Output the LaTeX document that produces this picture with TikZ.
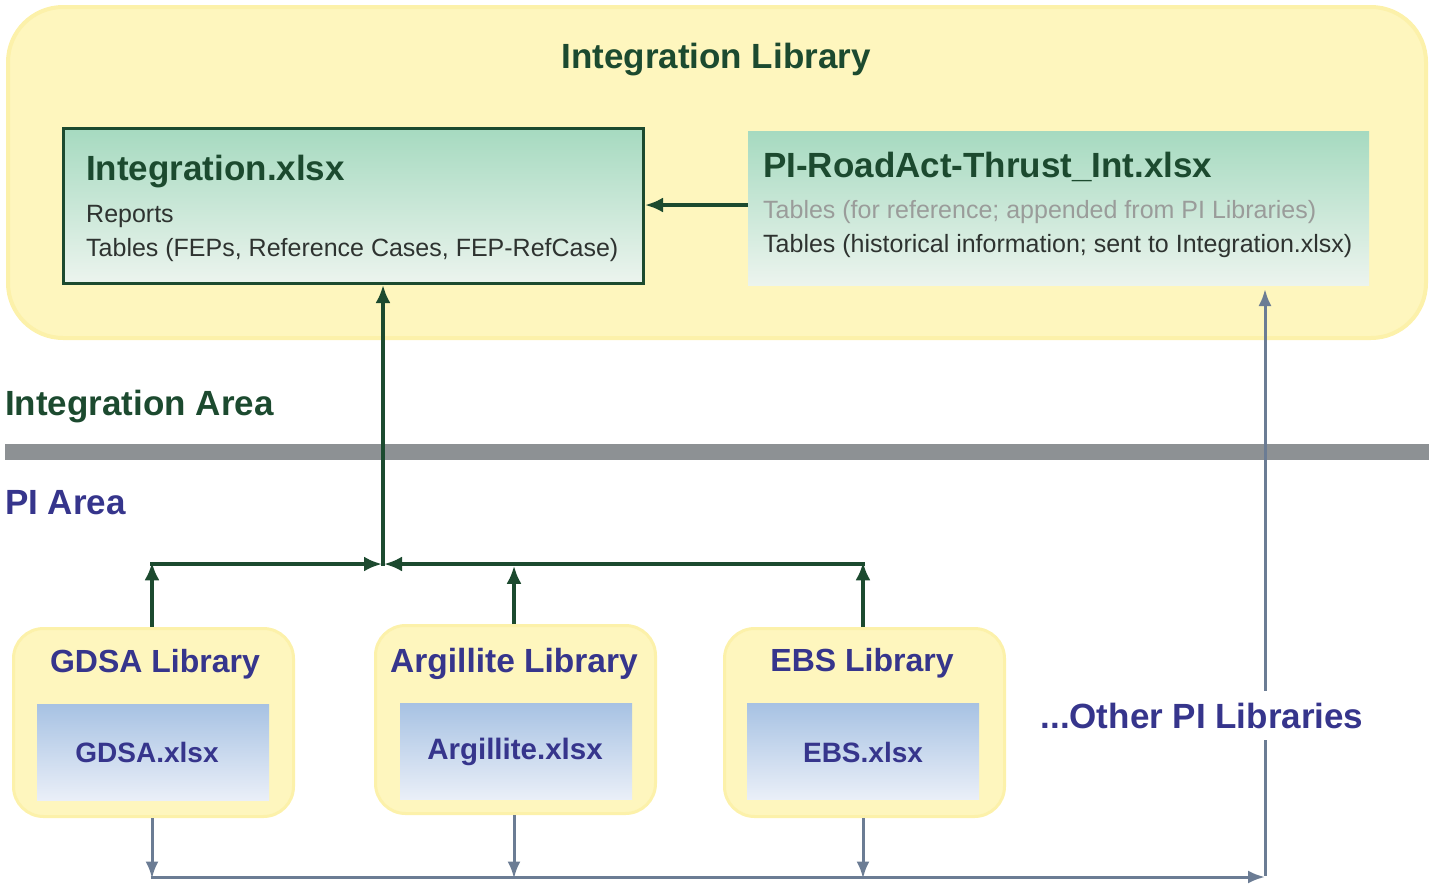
\documentclass[tikz,border=0pt]{standalone}
\usepackage{fontspec}
\setmainfont{Liberation Sans}
\usetikzlibrary{arrows.meta}

\definecolor{dgreen}{HTML}{1C4A2F}
\definecolor{piblue}{HTML}{36358C}
\definecolor{slate}{HTML}{6B7C94}
\definecolor{barGray}{HTML}{8D9194}
\definecolor{paleY}{HTML}{FEF6BE}
\definecolor{edgeY}{HTML}{FCF1AA}
\definecolor{mintTop}{HTML}{A6DAC0}
\definecolor{mintBot}{HTML}{ECF4EE}
\definecolor{skyTop}{HTML}{A7C2E3}
\definecolor{skyBot}{HTML}{EAEFF8}
\definecolor{bodyTxt}{HTML}{2E3330}
\definecolor{mutedTxt}{HTML}{9A9C9A}

\tikzset{
  areabox/.style={fill=paleY, draw=edgeY, line width=4pt, rounded corners=55pt},
  libbox/.style={fill=paleY, draw=edgeY, line width=3pt, rounded corners=30pt,
    minimum width=280, minimum height=188, anchor=north west, inner sep=0},
  filebox/.style={top color=skyTop, bottom color=skyBot, draw=none,
    minimum width=232, minimum height=96, anchor=north west, inner sep=0},
  headtxt/.style={font=\fontsize{35}{40}\selectfont\bfseries, text=dgreen, inner sep=0},
  bodytxt/.style={font=\fontsize{25}{30}\selectfont, text=bodyTxt, inner sep=0},
  libtxt/.style={font=\fontsize{32}{36}\selectfont\bfseries, text=piblue, inner sep=0, anchor=base},
  filetxt/.style={font=\fontsize{28}{32}\selectfont\bfseries, text=piblue, inner sep=0, anchor=base},
  garrow/.style={draw=dgreen, line width=3.5pt, -{Latex[length=18pt,width=15pt]}},
  barrow/.style={draw=slate, line width=3pt, -{Latex[length=17pt,width=13pt]}},
}

\begin{document}
\begin{tikzpicture}[x=1pt, y=-1pt]
\useasboundingbox (0,0) rectangle (1429,884);

% integration area background
\node[areabox, minimum width=1418, minimum height=331, anchor=north west, inner sep=0]
  (intlib) at (6,5) {};
\node[headtxt, anchor=base] (intlibT) at (716,68) {Integration Library};

% Integration.xlsx
\node[top color=mintTop, bottom color=mintBot, draw=dgreen, line width=3pt,
  minimum width=580, minimum height=155, anchor=north west, inner sep=0]
  (intx) at (62,127) {};
\node[headtxt, anchor=base west] (intxT) at (86,180) {Integration.xlsx};
\node[bodytxt, anchor=base west] (intxR) at (86,222) {Reports};
\node[bodytxt, anchor=base west] (intxTb) at (86,256) {Tables (FEPs, Reference Cases, FEP-RefCase)};

% PI-RoadAct-Thrust_Int.xlsx
\node[top color=mintTop, bottom color=mintBot, draw=none,
  minimum width=621, minimum height=154, anchor=north west, inner sep=0]
  (thr) at (748,131) {};
\node[headtxt, anchor=base west] (thrT) at (763,177) {PI-RoadAct-Thrust\_Int.xlsx};
\node[bodytxt, text=mutedTxt, anchor=base west] (thrA) at (763,218)
  {Tables (for reference; appended from PI Libraries)};
\node[bodytxt, anchor=base west] (thrB) at (763,252)
  {Tables (historical information; sent to Integration.xlsx)};

% area labels and divider
\node[headtxt, anchor=base west] (iarea) at (5,415) {Integration Area};
\node[fill=barGray, minimum width=1424, minimum height=16, anchor=north west, inner sep=0]
  (bar) at (5,444) {};
\node[headtxt, text=piblue, anchor=base west] (parea) at (5,514) {PI Area};

% PI libraries
\node[libbox] (gdsa) at (12,627) {};
\node[libbox] (arg) at (374,624) {};
\node[libbox] (ebs) at (723,627) {};
\node[filebox] (gdsaF) at (37,704) {};
\node[filebox] (argF) at (400,703) {};
\node[filebox] (ebsF) at (747,703) {};
\node[libtxt] (gdsaT) at (155,672) {GDSA Library};
\node[libtxt, font=\fontsize{33.5}{38}\selectfont\bfseries] (argT) at (514,672) {Argillite Library};
\node[libtxt] (ebsT) at (862,671) {EBS Library};
\node[filetxt] (gdsaX) at (147,762) {GDSA.xlsx};
\node[filetxt, font=\fontsize{29.5}{34}\selectfont\bfseries] (argX) at (515,759) {Argillite.xlsx};
\node[filetxt] (ebsX) at (863,762) {EBS.xlsx};

% junction of library links
\coordinate (jn) at (383,564);
\coordinate (jl) at (152,564);
\coordinate (jr) at (863,564);

\draw[garrow] (gdsa.north -| jl) -- ([yshift=1.75pt]jl);
\draw[garrow] (arg.north -| 514,0) -- (514,565.75);
\draw[garrow] (ebs.north -| jr) -- ([yshift=1.75pt]jr);
\draw[garrow] ([xshift=-1.75pt]jl) -- ([xshift=-1pt]jn);
\draw[garrow] ([xshift=1.75pt]jr) -- ([xshift=1pt]jn);
\draw[garrow] ([yshift=-1.75pt]jn) -- (intx.south -| jn);

% table feed into Integration.xlsx
\draw[garrow] (thr.west |- 0,205) -- (intx.east |- 0,205);

% other libraries and return path
\coordinate (bl) at (152,877);
\coordinate (bm) at (514,877);
\coordinate (br) at (863,877);
\coordinate (bc) at (1265,877);
\coordinate (bt) at (1265,289);
\draw[barrow] (gdsa.south -| bl) -- ([yshift=-1.5pt]bl);
\draw[barrow] (arg.south -| bm) -- ([yshift=-1.5pt]bm);
\draw[barrow] (ebs.south -| br) -- ([yshift=-1.5pt]br);
\draw[draw=slate, line width=3pt] ([xshift=-1.5pt]bl) -- (1250,877);
\draw[barrow] (1250,877) -- ([xshift=0pt]bc);
\draw[barrow] ([yshift=1.5pt]bc) -- (bt);
\node[font=\fontsize{35}{40}\selectfont\bfseries, text=piblue, fill=white,
  inner xsep=4pt, inner ysep=12pt, anchor=base] (other) at (1202,728) {...Other PI Libraries};
\end{tikzpicture}
\end{document}
